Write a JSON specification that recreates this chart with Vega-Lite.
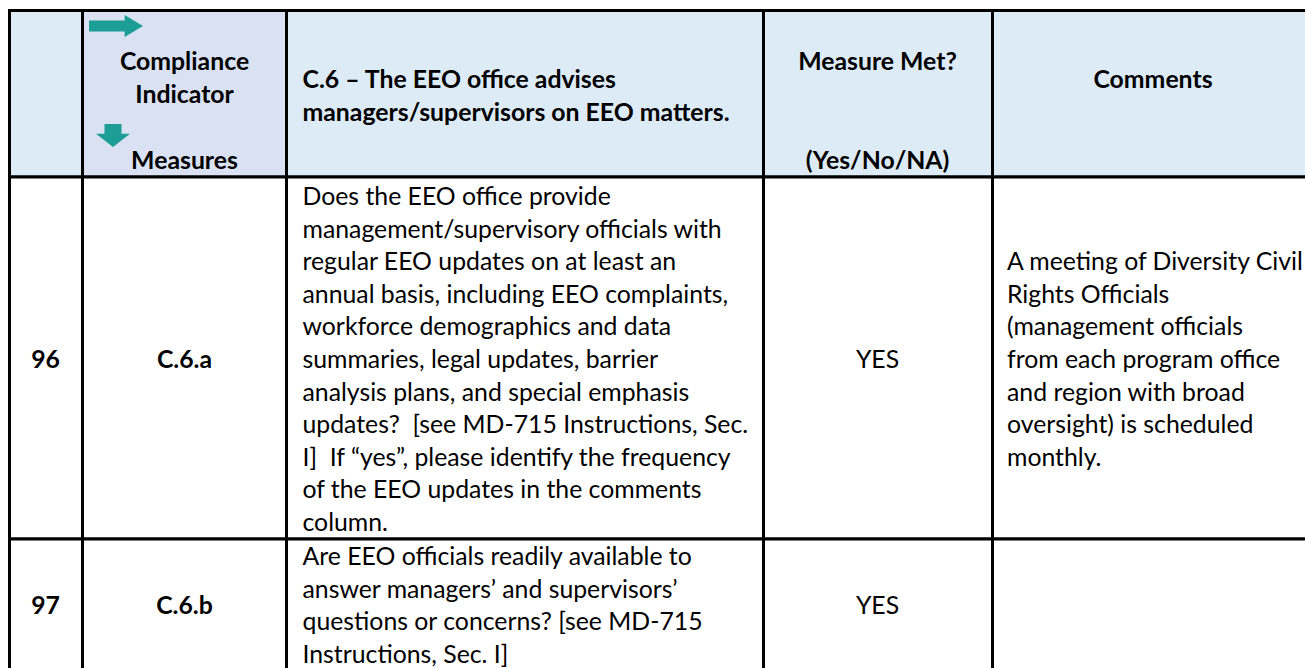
{
  "$schema": "https://vega.github.io/schema/vega-lite/v6.json",
  "width": 1305,
  "height": 668,
  "autosize": "none",
  "padding": 0,
  "background": "white",
  "view": {"stroke": null},
  "config": {"text": {"font": "Lato", "color": "#000000"}},
  "datasets": {
    "cells": [
      {"c0": 0, "c1": 1, "r0": 0, "r1": 1, "zone": "header"},
      {"c0": 1, "c1": 2, "r0": 0, "r1": 1, "zone": "indicator"},
      {"c0": 2, "c1": 3, "r0": 0, "r1": 1, "zone": "header"},
      {"c0": 3, "c1": 4, "r0": 0, "r1": 1, "zone": "header"},
      {"c0": 4, "c1": 5, "r0": 0, "r1": 1, "zone": "header"},
      {"c0": 0, "c1": 1, "r0": 1, "r1": 2, "zone": "body"},
      {"c0": 1, "c1": 2, "r0": 1, "r1": 2, "zone": "body"},
      {"c0": 2, "c1": 3, "r0": 1, "r1": 2, "zone": "body"},
      {"c0": 3, "c1": 4, "r0": 1, "r1": 2, "zone": "body"},
      {"c0": 4, "c1": 5, "r0": 1, "r1": 2, "zone": "body"},
      {"c0": 0, "c1": 1, "r0": 2, "r1": 3, "zone": "body"},
      {"c0": 1, "c1": 2, "r0": 2, "r1": 3, "zone": "body"},
      {"c0": 2, "c1": 3, "r0": 2, "r1": 3, "zone": "body"},
      {"c0": 3, "c1": 4, "r0": 2, "r1": 3, "zone": "body"},
      {"c0": 4, "c1": 5, "r0": 2, "r1": 3, "zone": "body"}
    ],
    "texts": [
      {"line": 1, "col": 1, "role": "head", "text": "Compliance\nIndicator"},
      {"line": 4, "col": 1, "role": "head", "text": "Measures"},
      {"line": 1.55, "col": 2, "role": "title", "text": "C.6 – The EEO office advises\nmanagers/supervisors on EEO matters."},
      {"line": 1, "col": 3, "role": "head", "text": "Measure Met?"},
      {"line": 4, "col": 3, "role": "head", "text": "(Yes/No/NA)"},
      {"line": 1.55, "col": 4, "role": "head", "text": "Comments"},
      {"line": 10, "col": 0, "role": "head", "text": "96"},
      {"line": 10, "col": 1, "role": "head", "text": "C.6.a"},
      {"line": 5, "col": 2, "role": "question", "text": "Does the EEO office provide\nmanagement/supervisory officials with\nregular EEO updates on at least an\nannual basis, including EEO complaints,\nworkforce demographics and data\nsummaries, legal updates, barrier\nanalysis plans, and special emphasis\nupdates? \u00a0[see MD-715 Instructions, Sec.\nI] \u00a0If “yes”, please identify the frequency\nof the EEO updates in the comments\ncolumn."},
      {"line": 10, "col": 3, "role": "answer", "text": "YES"},
      {"line": 7, "col": 4, "role": "comment", "text": "A meeting of Diversity Civil\nRights Officials\n(management officials\nfrom each program office\nand region with broad\noversight) is scheduled\nmonthly."},
      {"line": 17.5, "col": 0, "role": "head", "text": "97"},
      {"line": 17.5, "col": 1, "role": "head", "text": "C.6.b"},
      {"line": 16, "col": 2, "role": "question", "text": "Are EEO officials readily available to\nanswer managers’ and supervisors’\nquestions or concerns? [see MD-715\nInstructions, Sec. I]"},
      {"line": 17.5, "col": 3, "role": "answer", "text": "YES"}
    ],
    "arrows": [
      {"glyph": "right"},
      {"glyph": "down"}
    ]
  },
  "layer": [
    {
      "data": {"name": "cells"},
      "mark": {"type": "rect", "stroke": "#000000", "strokeWidth": 3},
      "encoding": {
        "x": {"field": "c0", "type": "quantitative", "axis": null,
              "scale": {"domain": [0, 1, 2, 3, 4, 5], "range": [9.5, 82.5, 286.5, 763.5, 992.5, 1340], "nice": false, "zero": false}},
        "x2": {"field": "c1"},
        "y": {"field": "r0", "type": "quantitative", "axis": null,
              "scale": {"domain": [0, 1, 2, 3], "range": [10.5, 177, 539, 700], "nice": false, "zero": false}},
        "y2": {"field": "r1"},
        "fill": {"field": "zone", "type": "nominal", "legend": null,
                 "scale": {"domain": ["header", "indicator", "body"], "range": ["#DDEBF7", "#D9E1F2", "#FFFFFF"]}}
      }
    },
    {
      "data": {"name": "arrows"},
      "mark": {"type": "point", "filled": true, "opacity": 1, "color": "#1C9E96", "strokeWidth": 0},
      "encoding": {
        "x": {"field": "glyph", "type": "nominal", "axis": null,
              "scale": {"type": "point", "domain": ["right", "down"], "range": [116, 113], "padding": 0}},
        "y": {"field": "glyph", "type": "nominal", "axis": null,
              "scale": {"type": "point", "domain": ["right", "down"], "range": [26, 135.5], "padding": 0}},
        "shape": {"field": "glyph", "type": "nominal", "legend": null,
                  "scale": {"domain": ["right", "down"], "range": ["M-1,-0.2 L0.32,-0.2 L0.32,-0.41 L1,0 L0.32,0.41 L0.32,0.2 L-1,0.2 Z", "M-0.5,-0.68 L0.5,-0.68 L0.5,-0.1 L1,-0.1 L0,0.68 L-1,-0.1 L-0.5,-0.1 Z"]}},
        "size": {"field": "glyph", "type": "ordinal", "legend": null,
                 "scale": {"domain": ["right", "down"], "range": [2916, 1156]}}
      }
    },
    {
      "data": {"name": "texts"},
      "transform": [{"filter": "datum.role === 'head'"}],
      "mark": {"type": "text", "align": "center", "baseline": "middle", "fontWeight": "bold", "fontSize": 24.8, "lineHeight": 33, "lineBreak": "\n"},
      "encoding": {
        "x": {"field": "col", "type": "quantitative", "axis": null,
              "scale": {"domain": [0, 1, 2, 3, 4], "range": [45.5, 184.5, 524.5, 877.5, 1153], "nice": false, "zero": false}},
        "y": {"field": "line", "type": "quantitative", "axis": null,
              "scale": {"domain": [0, 4, 5, 15, 16, 19], "range": [30, 162, 198, 524, 558, 656], "nice": false, "zero": false}},
        "text": {"field": "text", "type": "nominal"}
      }
    },
    {
      "data": {"name": "texts"},
      "transform": [{"filter": "datum.role === 'title'"}],
      "mark": {"type": "text", "align": "left", "baseline": "middle", "fontWeight": "bold", "fontSize": 24.8, "lineHeight": 33, "lineBreak": "\n"},
      "encoding": {
        "x": {"field": "col", "type": "quantitative", "axis": null,
              "scale": {"domain": [2, 4], "range": [302.5, 1008], "nice": false, "zero": false}},
        "y": {"field": "line", "type": "quantitative", "axis": null,
              "scale": {"domain": [0, 4, 5, 15, 16, 19], "range": [30, 162, 198, 524, 558, 656], "nice": false, "zero": false}},
        "text": {"field": "text", "type": "nominal"}
      }
    },
    {
      "data": {"name": "texts"},
      "transform": [{"filter": "datum.role === 'answer'"}],
      "mark": {"type": "text", "align": "center", "baseline": "middle", "fontWeight": "normal", "fontSize": 24.8, "lineHeight": 32.6, "lineBreak": "\n"},
      "encoding": {
        "x": {"field": "col", "type": "quantitative", "axis": null,
              "scale": {"domain": [0, 1, 2, 3, 4], "range": [45.5, 184.5, 524.5, 877.5, 1153], "nice": false, "zero": false}},
        "y": {"field": "line", "type": "quantitative", "axis": null,
              "scale": {"domain": [0, 4, 5, 15, 16, 19], "range": [30, 162, 198, 524, 558, 656], "nice": false, "zero": false}},
        "text": {"field": "text", "type": "nominal"}
      }
    },
    {
      "data": {"name": "texts"},
      "transform": [{"filter": "datum.role === 'question' || datum.role === 'comment'"}],
      "mark": {"type": "text", "align": "left", "baseline": "middle", "fontWeight": "normal", "fontSize": 24.8, "lineHeight": 32.6, "lineBreak": "\n"},
      "encoding": {
        "x": {"field": "col", "type": "quantitative", "axis": null,
              "scale": {"domain": [2, 4], "range": [302.5, 1007], "nice": false, "zero": false}},
        "y": {"field": "line", "type": "quantitative", "axis": null,
              "scale": {"domain": [0, 4, 5, 15, 16, 19], "range": [30, 162, 198, 524, 558, 656], "nice": false, "zero": false}},
        "text": {"field": "text", "type": "nominal"}
      }
    }
  ],
  "resolve": {"scale": {"x": "independent", "y": "independent", "fill": "independent", "shape": "independent", "size": "independent"}}
}
